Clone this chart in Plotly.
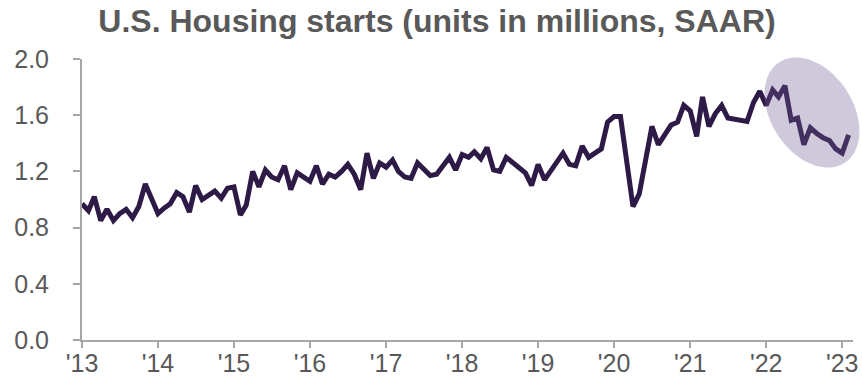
import math
import pandas as pd
import plotly.graph_objects as go

# Monthly housing starts, units in millions (SAAR), Jan 2013 - Feb 2023
v2013 = [0.97, 0.92, 1.02, 0.85, 0.93, 0.85, 0.90, 0.93, 0.87, 0.95, 1.11, 1.01]
v2014 = [0.90, 0.94, 0.97, 1.05, 1.02, 0.91, 1.10, 1.00, 1.03, 1.06, 1.01, 1.08]
v2015 = [1.09, 0.89, 0.96, 1.20, 1.09, 1.21, 1.16, 1.14, 1.24, 1.07, 1.19, 1.16]
v2016 = [1.13, 1.24, 1.11, 1.18, 1.16, 1.20, 1.25, 1.18, 1.07, 1.33, 1.15, 1.26]
v2017 = [1.23, 1.28, 1.20, 1.16, 1.15, 1.26, 1.21, 1.17, 1.18, 1.24, 1.30, 1.21]
v2018 = [1.32, 1.30, 1.34, 1.29, 1.37, 1.21, 1.20, 1.30, 1.26, 1.22, 1.19, 1.10]
v2019 = [1.25, 1.14, 1.20, 1.28, 1.33, 1.25, 1.24, 1.38, 1.30, 1.33, 1.36, 1.55]
v2020 = [1.59, 1.59, 1.28, 0.95, 1.04, 1.27, 1.52, 1.39, 1.46, 1.53, 1.55, 1.67]
v2021 = [1.63, 1.45, 1.73, 1.52, 1.61, 1.67, 1.58, 1.57, 1.565, 1.555, 1.69, 1.77]
v2022 = [1.67, 1.78, 1.73, 1.81, 1.565, 1.58, 1.39, 1.51, 1.47, 1.44, 1.42, 1.36]
v2023 = [1.33, 1.46]

values = v2013 + v2014 + v2015 + v2016 + v2017 + v2018 + v2019 + v2020 + v2021 + v2022 + v2023
months = pd.date_range(start="2013-01-01", periods=len(values), freq="MS")

tick_dates = [f"{y}-01-01" for y in range(2013, 2024)]
tick_text = ["'13", "'14", "'15", "'16", "'17", "'18", "'19", "'20", "'21", "'22", "'23"]
y_ticks = [0.0, 0.4, 0.8, 1.2, 1.6, 2.0]
y_text = ["0.0", "0.4", "0.8", "1.2", "1.6", "2.0"]

W, H = 862, 384
ML, MR, MT, MB = 82, 9, 59, 44
PW, PH = W - ML - MR, H - MT - MB

fig = go.Figure()
fig.add_trace(go.Scatter(
    x=months, y=values, mode="lines",
    line=dict(color="#2e1a47", width=5),
    hoverinfo="skip", showlegend=False,
))

# highlight ellipse (rotated), in paper coordinates
cx, cy, a, b, th = 812, 112.5, 60, 41, math.radians(57)
pts = []
for i in range(73):
    t = 2 * math.pi * i / 72
    x = cx + a * math.cos(t) * math.cos(th) - b * math.sin(t) * math.sin(th)
    y = cy + a * math.cos(t) * math.sin(th) + b * math.sin(t) * math.cos(th)
    pts.append(((x - ML) / PW, (H - MB - y) / PH))
path = "M " + " L ".join(f"{px:.4f},{py:.4f}" for px, py in pts) + " Z"
fig.add_shape(type="path", path=path, xref="paper", yref="paper",
              fillcolor="rgba(112,92,148,0.33)", line=dict(width=0), layer="above")

fig.update_layout(
    width=W, height=H,
    margin=dict(l=ML, r=MR, t=MT, b=MB, autoexpand=False),
    paper_bgcolor="white", plot_bgcolor="white",
    font=dict(family="Liberation Sans, Arial, sans-serif", color="#595959"),
    title=dict(text="<b>U.S. Housing starts (units in millions, SAAR)</b>",
               x=437 / W, xanchor="center", y=1 - 21 / H, yanchor="middle",
               font=dict(size=32, color="#595959")),
    xaxis=dict(
        type="date", automargin=False,
        range=["2013-01-01", "2023-02-22"],
        tickvals=tick_dates, ticktext=tick_text,
        showgrid=False, zeroline=False,
        showline=True, linecolor="#a6a6a6", linewidth=2,
        ticks="outside", ticklen=6, tickcolor="#a6a6a6", tickwidth=1.5,
        tickfont=dict(size=25, color="#595959"),
        ticklabelstandoff=-6,
    ),
    yaxis=dict(
        range=[0, 2.0], automargin=False,
        tickvals=y_ticks, ticktext=y_text,
        showgrid=False, zeroline=False,
        showline=True, linecolor="#a6a6a6", linewidth=2,
        ticks="outside", ticklen=7, tickcolor="#a6a6a6", tickwidth=1.5,
        tickfont=dict(size=25, color="#595959"),
        ticklabelstandoff=19,
    ),
)

fig.write_html("out.html")
